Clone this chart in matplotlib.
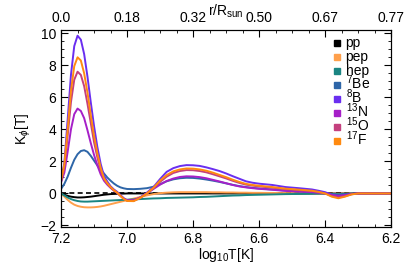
import matplotlib
matplotlib.use('Agg')
import matplotlib.pyplot as plt
from matplotlib.ticker import MultipleLocator

plt.rcParams['font.family'] = ['Liberation Sans', 'DejaVu Sans']
plt.rcParams['mathtext.fontset'] = 'custom'
plt.rcParams['mathtext.rm'] = 'Liberation Sans'
plt.rcParams['mathtext.it'] = 'Liberation Sans:italic'

# Data (log10 T grid)
logT = [7.20, 7.19, 7.18, 7.17, 7.16, 7.15, 7.14, 7.13, 7.12, 7.11, 7.10, 7.09, 7.08, 7.07,
        7.06, 7.05, 7.04, 7.03, 7.02, 7.01, 7.00, 6.98, 6.96, 6.94, 6.92, 6.90, 6.88, 6.86,
        6.84, 6.82, 6.80, 6.78, 6.76, 6.74, 6.72, 6.70, 6.68, 6.66, 6.64, 6.62, 6.60, 6.56,
        6.52, 6.48, 6.44, 6.42, 6.40, 6.38, 6.36, 6.34, 6.32, 6.30, 6.25, 6.20]

k_pp = [0.0, -0.08, -0.15, -0.2, -0.23, -0.25, -0.25, -0.24, -0.22, -0.2, -0.17, -0.14, -0.11, -0.08,
        -0.06, -0.04, -0.03, -0.02, -0.01, -0.01, 0.0, 0.0, 0.0, 0.0, 0.0, 0.0, 0.0, 0.0,
        0.0, 0.0, 0.0, 0.0, 0.0, 0.0, 0.0, 0.0, 0.0, 0.0, 0.0, 0.0, 0.0, 0.0,
        0.0, 0.0, 0.0, 0.0, 0.0, 0.0, 0.0, 0.0, 0.0, 0.0, 0.0, 0.0]

k_pep = [0.0, -0.2, -0.4, -0.57, -0.7, -0.78, -0.83, -0.86, -0.87, -0.87, -0.86, -0.84, -0.81, -0.77,
         -0.72, -0.67, -0.62, -0.57, -0.52, -0.47, -0.42, -0.32, -0.22, -0.12, -0.04, 0.02, 0.05, 0.07,
         0.08, 0.08, 0.08, 0.08, 0.08, 0.07, 0.07, 0.06, 0.06, 0.05, 0.05, 0.04, 0.04, 0.03,
         0.02, 0.01, 0.01, 0.0, 0.0, -0.01, -0.02, -0.01, 0.0, 0.0, 0.0, 0.0]

k_hep = [0.0, -0.12, -0.25, -0.35, -0.42, -0.47, -0.5, -0.51, -0.51, -0.5, -0.49, -0.48, -0.47, -0.46,
         -0.45, -0.44, -0.43, -0.42, -0.41, -0.4, -0.39, -0.37, -0.35, -0.33, -0.31, -0.3, -0.28, -0.27,
         -0.26, -0.25, -0.24, -0.22, -0.21, -0.19, -0.17, -0.15, -0.13, -0.12, -0.1, -0.09, -0.08, -0.06,
         -0.04, -0.03, -0.02, -0.01, 0.0, -0.03, -0.05, -0.03, -0.01, 0.0, 0.0, 0.0]

k_be7 = [0.28, 0.6, 1.05, 1.6, 2.1, 2.45, 2.65, 2.7, 2.6, 2.35, 2.05, 1.75, 1.5, 1.25,
         1.0, 0.8, 0.62, 0.48, 0.38, 0.32, 0.28, 0.27, 0.29, 0.33, 0.42, 0.58, 0.76, 0.88,
         0.95, 0.98, 0.97, 0.93, 0.87, 0.8, 0.72, 0.63, 0.54, 0.46, 0.4, 0.35, 0.31, 0.25,
         0.18, 0.13, 0.09, 0.05, 0.01, -0.05, -0.08, -0.05, -0.01, 0.0, 0.0, 0.0]

k_b8 = [0.8, 1.9, 4.6, 7.4, 9.2, 9.85, 9.6, 8.7, 7.3, 5.7, 4.2, 2.9, 1.85, 1.1,
        0.75, 0.45, 0.25, 0.1, -0.1, -0.3, -0.42, -0.45, -0.25, 0.05, 0.4, 0.9, 1.35, 1.58,
        1.71, 1.77, 1.76, 1.72, 1.63, 1.52, 1.4, 1.25, 1.08, 0.92, 0.76, 0.67, 0.61, 0.53,
        0.4, 0.33, 0.25, 0.17, 0.08, -0.08, -0.17, -0.12, -0.04, 0.0, 0.0, 0.0]

k_n13 = [0.7, 1.3, 2.6, 4.0, 4.95, 5.3, 5.15, 4.7, 3.95, 3.15, 2.4, 1.75, 1.2, 0.8,
         0.55, 0.35, 0.18, 0.03, -0.15, -0.32, -0.43, -0.42, -0.25, 0.0, 0.28, 0.55, 0.78, 0.93,
         1.03, 1.07, 1.06, 1.02, 0.95, 0.85, 0.75, 0.64, 0.53, 0.44, 0.38, 0.33, 0.29, 0.23,
         0.16, 0.12, 0.08, 0.04, 0.0, -0.1, -0.15, -0.1, -0.03, 0.0, 0.0, 0.0]

k_o15 = [0.75, 1.6, 3.6, 5.7, 7.1, 7.6, 7.4, 6.7, 5.6, 4.4, 3.2, 2.25, 1.45, 0.9,
         0.6, 0.38, 0.2, 0.05, -0.15, -0.33, -0.45, -0.45, -0.27, 0.0, 0.33, 0.72, 1.05, 1.28,
         1.4, 1.46, 1.45, 1.4, 1.32, 1.2, 1.07, 0.94, 0.79, 0.66, 0.55, 0.49, 0.44, 0.36,
         0.27, 0.21, 0.15, 0.09, 0.0, -0.16, -0.25, -0.17, -0.05, 0.0, 0.0, 0.0]

k_f17 = [0.8, 1.8, 4.0, 6.4, 7.95, 8.5, 8.3, 7.5, 6.3, 4.9, 3.6, 2.5, 1.6, 0.95,
         0.65, 0.4, 0.2, 0.05, -0.15, -0.35, -0.47, -0.48, -0.28, 0.0, 0.35, 0.8, 1.15, 1.38,
         1.5, 1.56, 1.55, 1.5, 1.42, 1.3, 1.16, 1.02, 0.86, 0.72, 0.6, 0.53, 0.48, 0.4,
         0.3, 0.24, 0.17, 0.1, 0.0, -0.2, -0.3, -0.2, -0.06, 0.0, 0.0, 0.0]

labels = ['pp', 'pep', 'hep', r'$^{7}$Be', r'$^{8}$B', r'$^{13}$N', r'$^{15}$O', r'$^{17}$F']
colors = ['black', '#ffa04c', '#1a8582', '#2e66a8', '#6a2ef0', '#a61fc8', '#c4407e', '#ff8a10']
series = [k_pp, k_pep, k_hep, k_be7, k_b8, k_n13, k_o15, k_f17]

# Top axis ticks
top_ticks = [7.2, 7.0, 6.8, 6.6, 6.4, 6.2]
top_labels = ['0.0', '0.18', '0.32', '0.50', '0.67', '0.77']

fig = plt.figure(figsize=(4.07, 2.71), dpi=100)
ax = fig.add_axes([0.150, 0.162, 0.811, 0.727])

ax.axhline(0, color='black', linestyle=(0, (3, 2)), linewidth=1.2, zorder=1)
for k, lab, c in zip(series, labels, colors):
    ax.plot(logT, k, color=c, linewidth=1.4, label=lab)

ax.set_xlim(7.2, 6.2)
ax.set_ylim(-2.1, 10.2)
ax.xaxis.set_major_locator(MultipleLocator(0.2))
ax.xaxis.set_minor_locator(MultipleLocator(0.05))
ax.yaxis.set_major_locator(MultipleLocator(2))
ax.yaxis.set_minor_locator(MultipleLocator(0.5))
ax.tick_params(which='both', direction='in', right=True, labelsize=10)
ax.tick_params(which='major', length=5)
ax.tick_params(which='minor', length=2.5)
ax.set_xticks(top_ticks)
ax.set_xticklabels(['7.2', '7.0', '6.8', '6.6', '6.4', '6.2'])
ax.set_xlabel(r'log$_{10}$T[K]', fontsize=10, labelpad=0)
ax.set_ylabel(r'K$_{\phi}$[T]', fontsize=10, labelpad=5)

ax2 = ax.twiny()
ax2.set_xlim(ax.get_xlim())
ax2.set_xticks(top_ticks)
ax2.set_xticklabels(top_labels)
ax2.xaxis.set_minor_locator(MultipleLocator(0.05))
ax2.tick_params(which='both', direction='in', labelsize=10)
ax2.tick_params(which='major', length=5)
ax2.tick_params(which='minor', length=2.5)
ax2.set_xlabel(r'r/R$_{\rm sun}$', fontsize=10, labelpad=-3)

# Legend: square swatch + label, evenly spaced rows
for i, (lab, c) in enumerate(zip(labels, colors)):
    yrow = 0.934 - i * 0.071
    ax.plot([0.836], [yrow], marker='s', markersize=5, color=c, linestyle='none',
            transform=ax.transAxes, clip_on=False)
    ax.text(0.862, yrow - 0.022, lab, transform=ax.transAxes, fontsize=10,
            va='baseline', ha='left')

fig.savefig('out.png', dpi=100)
